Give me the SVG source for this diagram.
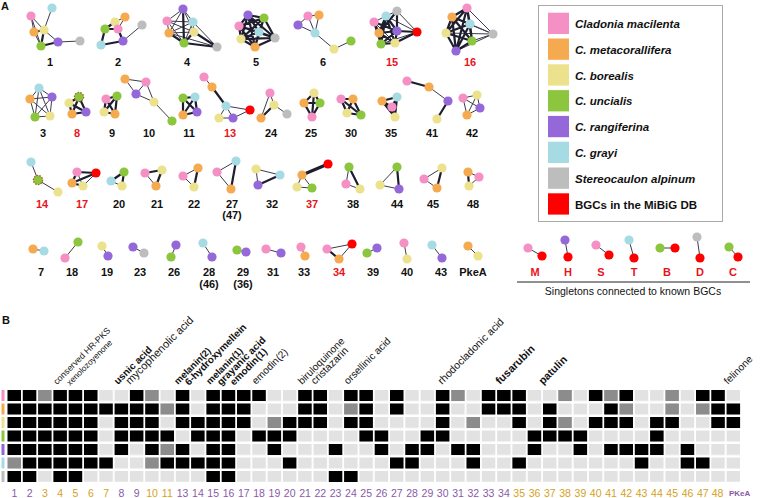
<svg xmlns="http://www.w3.org/2000/svg" width="760" height="498" viewBox="0 0 760 498">
<style>
text{font-family:"Liberation Sans",Arial,sans-serif}
.e{stroke:#3c3c4c;stroke-width:1;fill:none}
.t{stroke:#1e1e2e;stroke-width:2.2;fill:none}
.k{stroke:#1e1e2e;stroke-width:3.2;fill:none}
.p{fill:#f590c5}.o{fill:#f6aa50}.y{fill:#ece28d}.g{fill:#8cc63f}.u{fill:#9468d8}.c{fill:#a7dbe4}.a{fill:#bdbdbd}.r{fill:#ff0000}
.d{stroke:#a0621a;stroke-width:1.2;stroke-dasharray:1.6 1.2}
.lb{font-size:11px;font-weight:bold;text-anchor:middle;fill:#111}
.lr{font-size:11px;font-weight:bold;text-anchor:middle;fill:#e8141c}
.lg{font-size:11.5px;font-weight:bold;font-style:italic;fill:#111}
.pl{font-size:11px;font-weight:bold;fill:#111}
.rl{font-size:10.2px;fill:#111}
.rb{font-size:10px;font-weight:bold;fill:#111}
.cn{font-size:10.5px;text-anchor:middle}
.cp{fill:#8a5aa8}.cy{fill:#d4a21c}
</style>
<defs>
<circle id="n" r="4.6"/>
<pattern id="cell" x="7.5" y="390" width="15.3" height="13.5" patternUnits="userSpaceOnUse"><rect width="13.5" height="11" fill="#e2e2e2"/></pattern>
</defs>
<text class="pl" x="1" y="10">A</text>
<text class="pl" x="2" y="324">B</text>

<!-- legend -->
<g id="legend">
<rect x="538.5" y="5.5" width="184" height="216" fill="#fff" stroke="#aaa" stroke-width="1"/>
<rect class="p" x="548" y="12.7" width="21" height="21.3"/>
<rect class="o" x="548" y="38.5" width="21" height="21.3"/>
<rect class="y" x="548" y="64.3" width="21" height="21.3"/>
<rect class="g" x="548" y="90.1" width="21" height="21.3"/>
<rect class="u" x="548" y="115.9" width="21" height="21.3"/>
<rect class="c" x="548" y="141.7" width="21" height="21.3"/>
<rect class="a" x="548" y="167.5" width="21" height="21.3"/>
<rect class="r" x="548" y="193.3" width="21" height="21.3"/>
<text class="lg" x="575" y="28">Cladonia macilenta</text>
<text class="lg" x="575" y="53.8">C. metacorallifera</text>
<text class="lg" x="575" y="79.6">C. borealis</text>
<text class="lg" x="575" y="105.4">C. uncialis</text>
<text class="lg" x="575" y="131.2">C. rangiferina</text>
<text class="lg" x="575" y="157">C. grayi</text>
<text class="lg" x="575" y="182.8">Stereocaulon alpinum</text>
<text class="lg" x="575" y="208.6" style="font-style:normal">BGCs in the MiBiG DB</text>
</g>

<g id="connectors">
<!-- 1 -->
<path class="e" d="M31 16L34 32M31 16L44 30M31 16L41 46M52 8L44 30M34 32L41 46M44 30L58 42M58 42L80 41"/>
<path class="t" d="M34 32L44 30M44 30L41 46M41 46L58 42"/>
<!-- 2 -->
<path class="e" d="M115 22L125 17M125 17L118 29M115 22L118 29M123 41L142 25"/>
<path class="t" d="M105 29L115 22M105 29L118 29M105 29L101 45M118 29L123 41M101 45L123 41"/>
<!-- 4 -->
<path class="e" d="M183 9L167 21M183 9L193 22M183 9L169 33M183 9L194 32M167 21L193 22M167 21L169 33M167 21L194 32M167 21L184 43M193 22L169 33M193 22L194 32M193 22L184 43M169 33L194 32M217 47L169 33M217 47L193 22"/>
<path class="t" d="M183 9L184 43M169 33L184 43M194 32L184 43M217 47L194 32M217 47L184 43"/>
<!-- 5 -->
<path class="t" d="M248 15L264 18M248 15L239 26M248 15L259 32M248 15L241 39M248 15L275 38M248 15L255 47M264 18L239 26M264 18L259 32M264 18L241 39M264 18L275 38M264 18L255 47M239 26L259 32M239 26L241 39M239 26L275 38M239 26L255 47M259 32L241 39M259 32L275 38M259 32L255 47M241 39L275 38M241 39L255 47M275 38L255 47"/>
<!-- 6 -->
<path class="e" d="M298 25L308 16M308 16L319 15M308 16L315 33M319 15L315 33M298 25L315 33M315 33L334 49M334 49L351 41"/>
<!-- 15 -->
<path class="e" d="M374 22L386 16M386 16L397 11M397 11L417 32M386 16L417 32M381 44L417 32M374 22L395 43"/>
<path class="t" d="M374 22L379 33M374 22L397 31M374 22L381 44M386 16L379 33M386 16L397 31M386 16L381 44M386 16L395 43M397 11L379 33M397 11L397 31M379 33L397 31M379 33L381 44M379 33L395 43M397 31L381 44M397 31L395 43M381 44L395 43M397 31L417 32M395 43L417 32"/>
<!-- 16 -->
<path class="e" d="M467 8L493 34M470 24L493 34M472 41L493 34M456 51L493 34M446 33L493 34M452 17L493 34"/>
<path class="t" d="M467 8L452 17M467 8L470 24M467 8L446 33M467 8L472 41M467 8L456 51M452 17L470 24M452 17L446 33M452 17L472 41M452 17L456 51M470 24L446 33M470 24L472 41M470 24L456 51M446 33L472 41M446 33L456 51M472 41L456 51"/>
<!-- 3 -->
<path class="e" d="M39 88L30 99M39 88L52 97M39 88L35 117M39 88L50 116M30 99L52 97M30 99L35 117M30 99L50 116M52 97L35 117M52 97L50 116M35 117L50 116"/>
<!-- 8 -->
<path class="t" d="M79 97L69 103M79 97L72 114M79 97L86 112M69 103L72 114M72 114L86 112M69 103L86 112"/>
<!-- 9 -->
<path class="t" d="M106 99L117 96M106 99L104 112M106 99L115 114M117 96L104 112M117 96L115 114M104 112L115 114"/>
<!-- 10 -->
<path class="e" d="M125 79L146 82M125 79L136 94M146 82L136 94M146 82L154 102M136 94L154 102M154 102L172 121"/>
<!-- 11 -->
<path class="t" d="M183 98L195 97M183 98L183 115M183 98L197 112M195 97L183 115M195 97L197 112M183 115L197 112"/>
<!-- 13 -->
<path class="e" d="M204 77L212 87M226 106L250 110M226 106L219 118M226 106L233 118M219 118L233 118M233 118L250 110"/>
<path class="t" d="M212 87L226 106"/>
<!-- 24 -->
<path class="e" d="M270 93L274 105M270 93L261 118M274 105L287 114"/>
<path class="t" d="M274 105L261 118"/>
<!-- 25 -->
<path class="t" d="M314 93L304 103M314 93L320 103M314 93L312 117M304 103L320 103M304 103L312 117M320 103L312 117"/>
<!-- 30 -->
<path class="t" d="M341 99L353 99M341 99L347 113M341 99L361 115M353 99L347 113M353 99L361 115M347 113L361 115"/>
<!-- 35 -->
<path class="t" d="M382 101L397 97M382 101L392 107M397 97L392 107M392 107L395 117M382 101L395 117M397 97L395 117"/>
<!-- 41 -->
<path class="t" d="M407 81L429 87M448 101L437 119"/>
<path class="e" d="M429 87L448 101"/>
<!-- 42 -->
<path class="e" d="M463 98L477 95M463 98L480 108M463 98L467 115M477 95L480 108M477 95L467 115M480 108L467 115"/>
<!-- 14 -->
<path class="e" d="M31 162L38 180M38 180L58 192"/>
<!-- 17 -->
<path class="t" d="M77 172L96 173M77 172L72 183M72 183L96 173M72 183L83 186"/>
<path class="e" d="M83 186L96 173M77 172L83 186"/>
<!-- 20 -->
<path class="t" d="M111 181L124 172M124 172L122 186"/>
<path class="e" d="M111 181L122 186"/>
<!-- 21 -->
<path class="t" d="M145 173L162 170M162 170L156 186"/>
<path class="e" d="M145 173L156 186"/>
<!-- 22 -->
<path class="e" d="M183 176L198 168M183 176L194 187"/>
<path class="t" d="M198 168L194 187"/>
<!-- 27 -->
<path class="e" d="M217 172L236 161M217 172L231 189"/>
<path class="t" d="M236 161L231 189"/>
<!-- 32 -->
<path class="e" d="M256 169L280 175M256 169L258 185"/>
<path class="t" d="M280 175L258 185"/>
<!-- 37 -->
<path class="k" d="M328 164L302 175"/>
<path class="e" d="M302 175L297 187M302 175L312 188M297 187L312 188"/>
<!-- 38 -->
<path class="e" d="M349 167L346 184M346 184L360 189"/>
<path class="t" d="M349 167L360 189"/>
<!-- 44 -->
<path class="e" d="M380 185L397 167M380 185L399 189"/>
<path class="t" d="M397 167L399 189"/>
<!-- 45 -->
<path class="e" d="M424 179L442 168M424 179L437 188"/>
<path class="t" d="M442 168L437 188"/>
<!-- 48 -->
<path class="e" d="M468 172L479 177M479 177L469 186"/>
<path class="t" d="M468 172L469 186"/>
<!-- row 4 -->
<path class="e" d="M33 249L44 251M65 258L78 242M102 246L108 256M133 247L144 253M176 245L171 257M203 243L212 257M237 250L246 252M266 249L281 253M301 247L305 256M327 249L352 244M339 259L352 244M367 253L377 248M404 243L407 259M432 245L442 258M468 246L478 256"/>
<path class="t" d="M327 249L339 259"/>
<!-- singletons -->
<path class="e" d="M528 248L542 256M565 240L568 257M596 245L609 255M629 240L634 258M660 248L675 248M697 237L700 258M729 247L738 257"/>
</g>

<g id="c1"><use href="#n" class="p" x="31" y="16"/><use href="#n" class="c" x="52" y="8"/><use href="#n" class="o" x="34" y="32"/><use href="#n" class="y" x="44" y="30"/><use href="#n" class="g" x="41" y="46"/><use href="#n" class="u" x="58" y="42"/><use href="#n" class="a" x="80" y="41"/><text class="lb" x="50" y="66">1</text></g>
<g id="c2"><use href="#n" class="o" x="125" y="17"/><use href="#n" class="y" x="115" y="22"/><use href="#n" class="p" x="118" y="29"/><use href="#n" class="g" x="105" y="29"/><use href="#n" class="a" x="142" y="25"/><use href="#n" class="u" x="123" y="41"/><use href="#n" class="c" x="101" y="45"/><text class="lb" x="118" y="66">2</text></g>
<g id="c4"><use href="#n" class="u" x="183" y="9"/><use href="#n" class="p" x="167" y="21"/><use href="#n" class="c" x="193" y="22"/><use href="#n" class="o" x="169" y="33"/><use href="#n" class="y" x="194" y="32"/><use href="#n" class="g" x="184" y="43"/><use href="#n" class="a" x="217" y="47"/><text class="lb" x="187" y="66">4</text></g>
<g id="c5"><use href="#n" class="u" x="248" y="15"/><use href="#n" class="g" x="264" y="18"/><use href="#n" class="p" x="239" y="26"/><use href="#n" class="c" x="259" y="32"/><use href="#n" class="y" x="241" y="39"/><use href="#n" class="a" x="275" y="38"/><use href="#n" class="o" x="255" y="47"/><text class="lb" x="256" y="66">5</text></g>
<g id="c6"><use href="#n" class="p" x="308" y="16"/><use href="#n" class="o" x="319" y="15"/><use href="#n" class="u" x="298" y="25"/><use href="#n" class="c" x="315" y="33"/><use href="#n" class="y" x="334" y="49"/><use href="#n" class="g" x="351" y="41"/><text class="lb" x="323" y="66">6</text></g>
<g id="c15"><use href="#n" class="p" x="374" y="22"/><use href="#n" class="c" x="386" y="16"/><use href="#n" class="a" x="397" y="11"/><use href="#n" class="o" x="379" y="33"/><use href="#n" class="u" x="397" y="31"/><use href="#n" class="g" x="381" y="44"/><use href="#n" class="y" x="395" y="43"/><use href="#n" class="r" x="417" y="32"/><text class="lr" x="392" y="66">15</text></g>
<g id="c16"><use href="#n" class="p" x="467" y="8"/><use href="#n" class="o" x="452" y="17"/><use href="#n" class="c" x="470" y="24"/><use href="#n" class="y" x="446" y="33"/><use href="#n" class="g" x="472" y="41"/><use href="#n" class="u" x="456" y="51"/><use href="#n" class="a" x="493" y="34"/><text class="lr" x="470" y="66">16</text></g>

<g id="c3"><use href="#n" class="c" x="39" y="88"/><use href="#n" class="o" x="30" y="99"/><use href="#n" class="u" x="52" y="97"/><use href="#n" class="g" x="35" y="117"/><use href="#n" class="y" x="50" y="116"/><text class="lb" x="43" y="137">3</text></g>
<g id="c8"><use href="#n" class="y" x="69" y="103"/><use href="#n" class="o" x="72" y="114"/><use href="#n" class="u" x="86" y="112"/><use href="#n" class="g d" x="79" y="97"/><text class="lr" x="77" y="137">8</text></g>
<g id="c9"><use href="#n" class="p" x="106" y="99"/><use href="#n" class="g" x="117" y="96"/><use href="#n" class="y" x="104" y="112"/><use href="#n" class="o" x="115" y="114"/><text class="lb" x="112" y="137">9</text></g>
<g id="c10"><use href="#n" class="o" x="125" y="79"/><use href="#n" class="p" x="146" y="82"/><use href="#n" class="u" x="136" y="94"/><use href="#n" class="y" x="154" y="102"/><use href="#n" class="g" x="172" y="121"/><text class="lb" x="149" y="137">10</text></g>
<g id="c11"><use href="#n" class="g" x="183" y="98"/><use href="#n" class="c" x="195" y="97"/><use href="#n" class="o" x="183" y="115"/><use href="#n" class="u" x="197" y="112"/><text class="lb" x="189" y="137">11</text></g>
<g id="c13"><use href="#n" class="p" x="204" y="77"/><use href="#n" class="o" x="212" y="87"/><use href="#n" class="c" x="226" y="106"/><use href="#n" class="r" x="250" y="110"/><use href="#n" class="y" x="219" y="118"/><use href="#n" class="u" x="233" y="118"/><text class="lr" x="230" y="137">13</text></g>
<g id="c24"><use href="#n" class="p" x="270" y="93"/><use href="#n" class="y" x="274" y="105"/><use href="#n" class="o" x="261" y="118"/><use href="#n" class="a" x="287" y="114"/><text class="lb" x="271" y="137">24</text></g>
<g id="c25"><use href="#n" class="y" x="314" y="93"/><use href="#n" class="o" x="304" y="103"/><use href="#n" class="g" x="320" y="103"/><use href="#n" class="p" x="312" y="117"/><text class="lb" x="311" y="137">25</text></g>
<g id="c30"><use href="#n" class="p" x="341" y="99"/><use href="#n" class="o" x="353" y="99"/><use href="#n" class="y" x="347" y="113"/><use href="#n" class="g" x="361" y="115"/><text class="lb" x="351" y="137">30</text></g>
<g id="c35"><use href="#n" class="o" x="382" y="101"/><use href="#n" class="c" x="397" y="97"/><use href="#n" class="y" x="395" y="117"/><use href="#n" class="p" x="392" y="107"/><text class="lb" x="391" y="137">35</text></g>
<g id="c41"><use href="#n" class="p" x="407" y="81"/><use href="#n" class="o" x="429" y="87"/><use href="#n" class="u" x="448" y="101"/><use href="#n" class="y" x="437" y="119"/><text class="lb" x="432" y="137">41</text></g>
<g id="c42"><use href="#n" class="p" x="463" y="98"/><use href="#n" class="y" x="477" y="95"/><use href="#n" class="u" x="480" y="108"/><use href="#n" class="o" x="467" y="115"/><text class="lb" x="472" y="137">42</text></g>

<g id="c14"><use href="#n" class="c" x="31" y="162"/><use href="#n" class="y" x="58" y="192"/><use href="#n" class="g d" x="38" y="180"/><text class="lr" x="42" y="208">14</text></g>
<g id="c17"><use href="#n" class="p" x="77" y="172"/><use href="#n" class="r" x="96" y="173"/><use href="#n" class="o" x="72" y="183"/><use href="#n" class="y" x="83" y="186"/><text class="lr" x="82" y="208">17</text></g>
<g id="c20"><use href="#n" class="c" x="111" y="181"/><use href="#n" class="g" x="124" y="172"/><use href="#n" class="y" x="122" y="186"/><text class="lb" x="119" y="208">20</text></g>
<g id="c21"><use href="#n" class="p" x="145" y="173"/><use href="#n" class="y" x="162" y="170"/><use href="#n" class="o" x="156" y="186"/><text class="lb" x="157" y="208">21</text></g>
<g id="c22"><use href="#n" class="p" x="183" y="176"/><use href="#n" class="o" x="198" y="168"/><use href="#n" class="y" x="194" y="187"/><text class="lb" x="194" y="208">22</text></g>
<g id="c27"><use href="#n" class="p" x="217" y="172"/><use href="#n" class="c" x="236" y="161"/><use href="#n" class="o" x="231" y="189"/><text class="lb" x="232" y="208">27</text><text class="lb" x="232" y="219">(47)</text></g>
<g id="c32"><use href="#n" class="y" x="256" y="169"/><use href="#n" class="c" x="280" y="175"/><use href="#n" class="u" x="258" y="185"/><text class="lb" x="272" y="208">32</text></g>
<g id="c37"><use href="#n" class="r" x="328" y="164"/><use href="#n" class="o" x="302" y="175"/><use href="#n" class="y" x="297" y="187"/><use href="#n" class="g" x="312" y="188"/><text class="lr" x="312" y="208">37</text></g>
<g id="c38"><use href="#n" class="g" x="349" y="167"/><use href="#n" class="p" x="346" y="184"/><use href="#n" class="y" x="360" y="189"/><text class="lb" x="353" y="208">38</text></g>
<g id="c44"><use href="#n" class="y" x="380" y="185"/><use href="#n" class="g" x="397" y="167"/><use href="#n" class="u" x="399" y="189"/><text class="lb" x="397" y="208">44</text></g>
<g id="c45"><use href="#n" class="y" x="442" y="168"/><use href="#n" class="p" x="424" y="179"/><use href="#n" class="o" x="437" y="188"/><text class="lb" x="433" y="208">45</text></g>
<g id="c48"><use href="#n" class="o" x="468" y="172"/><use href="#n" class="p" x="479" y="177"/><use href="#n" class="y" x="469" y="186"/><text class="lb" x="473" y="208">48</text></g>

<g id="c7"><use href="#n" class="o" x="33" y="249"/><use href="#n" class="c" x="44" y="251"/><text class="lb" x="41" y="276">7</text></g>
<g id="c18"><use href="#n" class="p" x="65" y="258"/><use href="#n" class="g" x="78" y="242"/><text class="lb" x="72" y="276">18</text></g>
<g id="c19"><use href="#n" class="y" x="102" y="246"/><use href="#n" class="u" x="108" y="256"/><text class="lb" x="107" y="276">19</text></g>
<g id="c23"><use href="#n" class="u" x="133" y="247"/><use href="#n" class="a" x="144" y="253"/><text class="lb" x="140" y="276">23</text></g>
<g id="c26"><use href="#n" class="u" x="176" y="245"/><use href="#n" class="g" x="171" y="257"/><text class="lb" x="174" y="276">26</text></g>
<g id="c28"><use href="#n" class="c" x="203" y="243"/><use href="#n" class="u" x="212" y="257"/><text class="lb" x="209" y="276">28</text><text class="lb" x="209" y="288">(46)</text></g>
<g id="c29"><use href="#n" class="g" x="237" y="250"/><use href="#n" class="u" x="246" y="252"/><text class="lb" x="243" y="276">29</text><text class="lb" x="243" y="288">(36)</text></g>
<g id="c31"><use href="#n" class="p" x="266" y="249"/><use href="#n" class="u" x="281" y="253"/><text class="lb" x="273" y="276">31</text></g>
<g id="c33"><use href="#n" class="p" x="301" y="247"/><use href="#n" class="o" x="305" y="256"/><text class="lb" x="304" y="276">33</text></g>
<g id="c34"><use href="#n" class="p" x="327" y="249"/><use href="#n" class="r" x="352" y="244"/><use href="#n" class="o" x="339" y="259"/><text class="lr" x="339" y="276">34</text></g>
<g id="c39"><use href="#n" class="g" x="367" y="253"/><use href="#n" class="u" x="377" y="248"/><text class="lb" x="373" y="276">39</text></g>
<g id="c40"><use href="#n" class="p" x="404" y="243"/><use href="#n" class="y" x="407" y="259"/><text class="lb" x="407" y="276">40</text></g>
<g id="c43"><use href="#n" class="c" x="432" y="245"/><use href="#n" class="u" x="442" y="258"/><text class="lb" x="441" y="276">43</text></g>
<g id="cPkeA"><use href="#n" class="o" x="468" y="246"/><use href="#n" class="y" x="478" y="256"/><text class="lb" x="473" y="276">PkeA</text></g>

<g id="singletons">
<use href="#n" class="p" x="528" y="248"/><use href="#n" class="r" x="542" y="256"/>
<use href="#n" class="u" x="565" y="240"/><use href="#n" class="r" x="568" y="257"/>
<use href="#n" class="p" x="596" y="245"/><use href="#n" class="r" x="609" y="255"/>
<use href="#n" class="c" x="629" y="240"/><use href="#n" class="r" x="634" y="258"/>
<use href="#n" class="g" x="660" y="248"/><use href="#n" class="r" x="675" y="248"/>
<use href="#n" class="a" x="697" y="237"/><use href="#n" class="r" x="700" y="258"/>
<use href="#n" class="g" x="729" y="247"/><use href="#n" class="r" x="738" y="257"/>
<text class="lr" x="535" y="276">M</text><text class="lr" x="568" y="276">H</text><text class="lr" x="601" y="276">S</text><text class="lr" x="634" y="276">T</text><text class="lr" x="667" y="276">B</text><text class="lr" x="700" y="276">D</text><text class="lr" x="733" y="276">C</text>
<line x1="517" y1="282" x2="750" y2="282" stroke="#222" stroke-width="1"/>
<text x="633" y="295" style="font-size:10.5px;text-anchor:middle;fill:#111">Singletons connected to known BGCs</text>
</g>

<!-- panel B -->
<g id="labelsB">
<text class="rl" style="font-size:8.8px" transform="translate(57,385) rotate(-45)">conserved HR-PKS</text>
<text class="rl" style="font-size:8.3px" transform="translate(70,386) rotate(-45)">xenolozoyenone</text>
<text class="rb" transform="translate(118,385) rotate(-45)">usnic acid</text>
<text class="rl" style="font-size:11px" transform="translate(130,385) rotate(-45)">mycophenolic acid</text>
<text class="rb" style="font-size:9.5px" transform="translate(178,385) rotate(-45)">melanin(2)</text>
<text class="rb" transform="translate(189,386) rotate(-45)">6-hydroxymellein</text>
<text class="rb" style="font-size:9.5px" transform="translate(210,385) rotate(-45)">melanin(1)</text>
<text class="rb" transform="translate(221,386) rotate(-45)">grayanic acid</text>
<text class="rb" transform="translate(234,386) rotate(-45)">emodin(1)</text>
<text class="rl" transform="translate(256,385) rotate(-45)">emodin(2)</text>
<text class="rl" transform="translate(302,385) rotate(-45)">biruloquinone</text>
<text class="rl" style="font-size:10.5px" transform="translate(315,385) rotate(-45)">cristazarin</text>
<text class="rl" transform="translate(348,385) rotate(-45)">orsellinic acid</text>
<text class="rl" style="font-size:10.6px" transform="translate(442,385) rotate(-45)">rhodocladonic acid</text>
<text class="rb" style="font-size:11px" transform="translate(500,385) rotate(-45)">fusarubin</text>
<text class="rb" style="font-size:10.7px" transform="translate(543,385) rotate(-45)">patulin</text>
<text class="rl" transform="translate(728,385) rotate(-45)">felinone</text>
</g>

<g id="rowkeys">
<rect class="p" x="1.5" y="390" width="3" height="11"/>
<rect class="o" x="1.5" y="403.5" width="3" height="11"/>
<rect class="y" x="1.5" y="417" width="3" height="11"/>
<rect class="g" x="1.5" y="430.5" width="3" height="11"/>
<rect class="u" x="1.5" y="444" width="3" height="11"/>
<rect class="c" x="1.5" y="457.5" width="3" height="11"/>
<rect class="a" x="1.5" y="471" width="3" height="11"/>
</g>

<g id="grid">
<rect x="7.5" y="390" width="732.6" height="92" fill="url(#cell)"/>
<path fill="#000" d="M7.5 390h13.5v11h-13.5zM22.8 390h13.5v11h-13.5zM53.4 390h13.5v11h-13.5zM68.7 390h13.5v11h-13.5zM84 390h13.5v11h-13.5zM129.9 390h13.5v11h-13.5zM175.8 390h13.5v11h-13.5zM206.4 390h13.5v11h-13.5zM221.7 390h13.5v11h-13.5zM237 390h13.5v11h-13.5zM252.3 390h13.5v11h-13.5zM298.2 390h13.5v11h-13.5zM313.5 390h13.5v11h-13.5zM344.1 390h13.5v11h-13.5zM359.4 390h13.5v11h-13.5zM390 390h13.5v11h-13.5zM435.9 390h13.5v11h-13.5zM481.8 390h13.5v11h-13.5zM497.1 390h13.5v11h-13.5zM512.4 390h13.5v11h-13.5zM588.9 390h13.5v11h-13.5zM619.5 390h13.5v11h-13.5zM696 390h13.5v11h-13.5zM711.3 390h13.5v11h-13.5z
M7.5 403.5h13.5v11h-13.5zM22.8 403.5h13.5v11h-13.5zM38.1 403.5h13.5v11h-13.5zM53.4 403.5h13.5v11h-13.5zM68.7 403.5h13.5v11h-13.5zM84 403.5h13.5v11h-13.5zM99.3 403.5h13.5v11h-13.5zM114.6 403.5h13.5v11h-13.5zM129.9 403.5h13.5v11h-13.5zM145.2 403.5h13.5v11h-13.5zM175.8 403.5h13.5v11h-13.5zM206.4 403.5h13.5v11h-13.5zM221.7 403.5h13.5v11h-13.5zM237 403.5h13.5v11h-13.5zM298.2 403.5h13.5v11h-13.5zM313.5 403.5h13.5v11h-13.5zM359.4 403.5h13.5v11h-13.5zM390 403.5h13.5v11h-13.5zM435.9 403.5h13.5v11h-13.5zM481.8 403.5h13.5v11h-13.5zM497.1 403.5h13.5v11h-13.5zM512.4 403.5h13.5v11h-13.5zM543 403.5h13.5v11h-13.5zM604.2 403.5h13.5v11h-13.5zM711.3 403.5h13.5v11h-13.5zM726.6 403.5h13.5v11h-13.5z
M7.5 417h13.5v11h-13.5zM22.8 417h13.5v11h-13.5zM38.1 417h13.5v11h-13.5zM53.4 417h13.5v11h-13.5zM68.7 417h13.5v11h-13.5zM84 417h13.5v11h-13.5zM114.6 417h13.5v11h-13.5zM129.9 417h13.5v11h-13.5zM145.2 417h13.5v11h-13.5zM175.8 417h13.5v11h-13.5zM191.1 417h13.5v11h-13.5zM206.4 417h13.5v11h-13.5zM221.7 417h13.5v11h-13.5zM237 417h13.5v11h-13.5zM282.9 417h13.5v11h-13.5zM298.2 417h13.5v11h-13.5zM313.5 417h13.5v11h-13.5zM344.1 417h13.5v11h-13.5zM359.4 417h13.5v11h-13.5zM435.9 417h13.5v11h-13.5zM512.4 417h13.5v11h-13.5zM543 417h13.5v11h-13.5zM588.9 417h13.5v11h-13.5zM604.2 417h13.5v11h-13.5zM619.5 417h13.5v11h-13.5zM650.1 417h13.5v11h-13.5zM665.4 417h13.5v11h-13.5zM711.3 417h13.5v11h-13.5zM726.6 417h13.5v11h-13.5z
M7.5 430.5h13.5v11h-13.5zM22.8 430.5h13.5v11h-13.5zM38.1 430.5h13.5v11h-13.5zM53.4 430.5h13.5v11h-13.5zM68.7 430.5h13.5v11h-13.5zM84 430.5h13.5v11h-13.5zM114.6 430.5h13.5v11h-13.5zM129.9 430.5h13.5v11h-13.5zM145.2 430.5h13.5v11h-13.5zM160.5 430.5h13.5v11h-13.5zM191.1 430.5h13.5v11h-13.5zM206.4 430.5h13.5v11h-13.5zM221.7 430.5h13.5v11h-13.5zM252.3 430.5h13.5v11h-13.5zM267.6 430.5h13.5v11h-13.5zM282.9 430.5h13.5v11h-13.5zM359.4 430.5h13.5v11h-13.5zM374.7 430.5h13.5v11h-13.5zM420.6 430.5h13.5v11h-13.5zM435.9 430.5h13.5v11h-13.5zM527.7 430.5h13.5v11h-13.5zM543 430.5h13.5v11h-13.5zM558.3 430.5h13.5v11h-13.5zM573.6 430.5h13.5v11h-13.5zM650.1 430.5h13.5v11h-13.5z
M7.5 444h13.5v11h-13.5zM22.8 444h13.5v11h-13.5zM38.1 444h13.5v11h-13.5zM53.4 444h13.5v11h-13.5zM68.7 444h13.5v11h-13.5zM84 444h13.5v11h-13.5zM114.6 444h13.5v11h-13.5zM145.2 444h13.5v11h-13.5zM175.8 444h13.5v11h-13.5zM206.4 444h13.5v11h-13.5zM221.7 444h13.5v11h-13.5zM267.6 444h13.5v11h-13.5zM328.8 444h13.5v11h-13.5zM374.7 444h13.5v11h-13.5zM405.3 444h13.5v11h-13.5zM420.6 444h13.5v11h-13.5zM451.2 444h13.5v11h-13.5zM466.5 444h13.5v11h-13.5zM527.7 444h13.5v11h-13.5zM573.6 444h13.5v11h-13.5zM604.2 444h13.5v11h-13.5zM619.5 444h13.5v11h-13.5zM634.8 444h13.5v11h-13.5zM650.1 444h13.5v11h-13.5zM680.7 444h13.5v11h-13.5z
M22.8 457.5h13.5v11h-13.5zM38.1 457.5h13.5v11h-13.5zM53.4 457.5h13.5v11h-13.5zM68.7 457.5h13.5v11h-13.5zM84 457.5h13.5v11h-13.5zM99.3 457.5h13.5v11h-13.5zM160.5 457.5h13.5v11h-13.5zM175.8 457.5h13.5v11h-13.5zM191.1 457.5h13.5v11h-13.5zM206.4 457.5h13.5v11h-13.5zM221.7 457.5h13.5v11h-13.5zM282.9 457.5h13.5v11h-13.5zM390 457.5h13.5v11h-13.5zM405.3 457.5h13.5v11h-13.5zM466.5 457.5h13.5v11h-13.5zM512.4 457.5h13.5v11h-13.5zM634.8 457.5h13.5v11h-13.5zM680.7 457.5h13.5v11h-13.5zM696 457.5h13.5v11h-13.5z
M7.5 471h13.5v11h-13.5zM22.8 471h13.5v11h-13.5zM53.4 471h13.5v11h-13.5zM68.7 471h13.5v11h-13.5zM206.4 471h13.5v11h-13.5zM221.7 471h13.5v11h-13.5zM328.8 471h13.5v11h-13.5zM344.1 471h13.5v11h-13.5z"/>
<path fill="#8c8c8c" d="M38.1 390h13.5v11h-13.5zM145.2 390h13.5v11h-13.5zM451.2 390h13.5v11h-13.5zM558.3 390h13.5v11h-13.5zM604.2 390h13.5v11h-13.5zM665.4 390h13.5v11h-13.5z
M160.5 403.5h13.5v11h-13.5zM344.1 403.5h13.5v11h-13.5zM619.5 403.5h13.5v11h-13.5zM665.4 403.5h13.5v11h-13.5zM696 403.5h13.5v11h-13.5z
M267.6 417h13.5v11h-13.5zM466.5 417h13.5v11h-13.5zM558.3 417h13.5v11h-13.5z
M160.5 444h13.5v11h-13.5z
M7.5 457.5h13.5v11h-13.5zM145.2 457.5h13.5v11h-13.5z"/>
</g>

<g id="collabels" class="cn">
<text class="cp" x="14.3" y="497">1</text><text class="cp" x="29.6" y="497">2</text><text class="cy" x="44.9" y="497">3</text><text class="cy" x="60.2" y="497">4</text><text class="cy" x="75.5" y="497">5</text><text class="cy" x="90.8" y="497">6</text><text class="cy" x="106.1" y="497">7</text><text class="cp" x="121.4" y="497">8</text><text class="cp" x="136.7" y="497">9</text><text class="cy" x="152" y="497">10</text><text class="cy" x="167.3" y="497">11</text>
<text class="cp" x="182.6" y="497">13</text><text class="cp" x="197.9" y="497">14</text><text class="cp" x="213.2" y="497">15</text><text class="cp" x="228.5" y="497">16</text><text class="cp" x="243.8" y="497">17</text><text class="cp" x="259.1" y="497">18</text><text class="cp" x="274.4" y="497">19</text><text class="cp" x="289.7" y="497">20</text><text class="cp" x="305" y="497">21</text><text class="cp" x="320.3" y="497">22</text><text class="cp" x="335.6" y="497">23</text><text class="cp" x="350.9" y="497">24</text><text class="cp" x="366.2" y="497">25</text><text class="cp" x="381.5" y="497">26</text><text class="cp" x="396.8" y="497">27</text><text class="cp" x="412.1" y="497">28</text><text class="cp" x="427.4" y="497">29</text><text class="cp" x="442.7" y="497">30</text><text class="cp" x="458" y="497">31</text><text class="cp" x="473.3" y="497">32</text><text class="cp" x="488.6" y="497">33</text><text class="cp" x="503.9" y="497">34</text>
<text class="cy" x="519.2" y="497">35</text><text class="cy" x="534.5" y="497">36</text><text class="cy" x="549.8" y="497">37</text><text class="cy" x="565.1" y="497">38</text><text class="cy" x="580.4" y="497">39</text><text class="cy" x="595.7" y="497">40</text><text class="cy" x="611" y="497">41</text><text class="cy" x="626.3" y="497">42</text><text class="cy" x="641.6" y="497">43</text><text class="cy" x="656.9" y="497">44</text><text class="cy" x="672.2" y="497">45</text><text class="cy" x="687.5" y="497">46</text><text class="cy" x="702.8" y="497">47</text><text class="cy" x="717.6" y="497">48</text>
<text class="cp" x="729" y="496" style="font-size:8px;font-weight:bold;text-anchor:start">PKeA</text>
</g>
</svg>
